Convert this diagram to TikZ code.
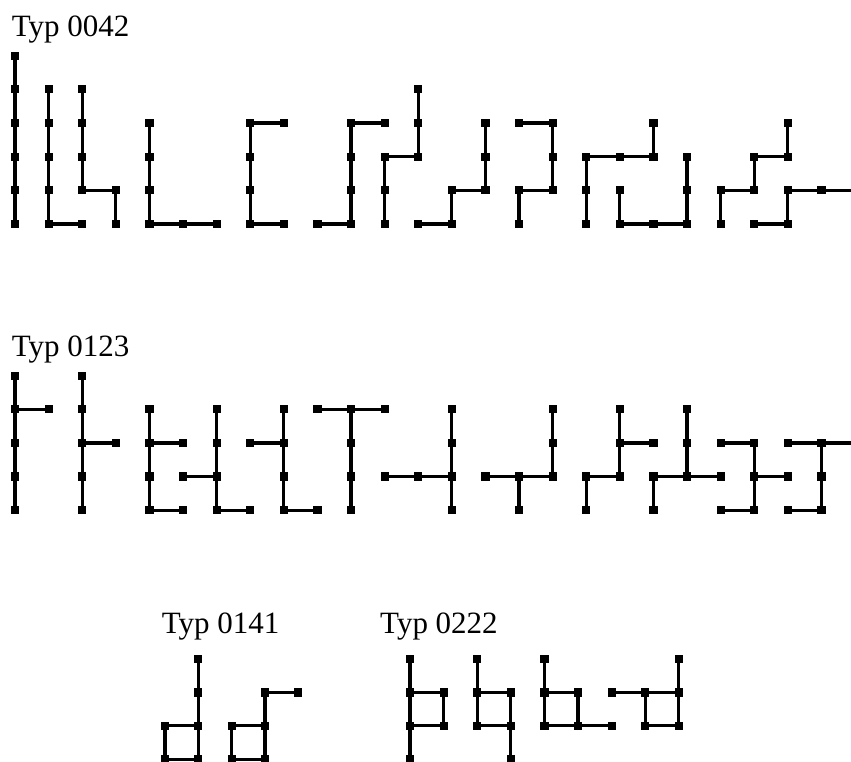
\documentclass[tikz,border=0pt]{standalone}
\usepackage{fontspec}
\setmainfont{Liberation Serif}
\begin{document}
\begin{tikzpicture}[x=1pt,y=-1pt,
  sq/.style={fill=black,rectangle,minimum size=8.2pt,inner sep=0pt,outer sep=0pt},
  seg/.style={line width=3.2pt},
  lab/.style={anchor=base west,inner sep=0pt,font=\fontsize{31}{36}\selectfont}]
\useasboundingbox (0,0) rectangle (851,762);
\clip (0,0) rectangle (851,762);
% labels
\node[lab] (l1) at (11.7,36.7) {Typ 0042};
\node[lab] (l2) at (11.7,356.7) {Typ 0123};
\node[lab] (l3) at (161.7,633.3) {Typ 0141};
\node[lab] (l4) at (380,633.3) {Typ 0222};
% top block
\foreach \i/\j in {0/0,0/1,0/2,0/3,0/4,0/5, 1/1,1/2,1/3,1/4,1/5,2/5, 2/1,2/2,2/3,2/4,3/4,3/5,
  4/2,4/3,4/4,4/5,5/5,6/5, 8/2,7/2,7/3,7/4,7/5,8/5, 9/5,10/5,10/4,10/3,10/2,11/2,
  12/1,12/2,12/3,11/3,11/4,11/5, 12/5,13/5,13/4,14/4,14/3,14/2, 15/2,16/2,16/3,16/4,15/4,15/5,
  19/2,19/3,18/3,17/3,17/4,17/5, 18/4,18/5,19/5,20/5,20/4,20/3, 23/2,23/3,22/3,22/4,21/4,21/5,
  22/5,23/5,23/4,24/4}
  \node[sq] (a\i-\j) at ({15+33.6*\i},{55.7+33.66*\j}) {};
\coordinate (endA) at (860,{55.7+33.66*4});
\foreach \p/\q in {a0-0/a0-5, a1-1/a1-5, a1-5/a2-5, a2-1/a2-4, a2-4/a3-4, a3-4/a3-5,
  a4-2/a4-5, a4-5/a6-5, a8-2/a7-2, a7-2/a7-5, a7-5/a8-5, a9-5/a10-5, a10-5/a10-2, a10-2/a11-2,
  a12-1/a12-3, a12-3/a11-3, a11-3/a11-5, a12-5/a13-5, a13-5/a13-4, a13-4/a14-4, a14-4/a14-2,
  a15-2/a16-2, a16-2/a16-4, a16-4/a15-4, a15-4/a15-5, a19-2/a19-3, a19-3/a17-3, a17-3/a17-5,
  a18-4/a18-5, a18-5/a20-5, a20-5/a20-3, a23-2/a23-3, a23-3/a22-3, a22-3/a22-4, a22-4/a21-4,
  a21-4/a21-5, a22-5/a23-5, a23-5/a23-4, a23-4/a24-4, a24-4/endA}
  \draw[seg] (\p) -- (\q);
% middle block
\foreach \i/\j in {0/0,0/1,0/2,0/3,0/4,1/1, 2/0,2/1,2/2,2/3,2/4,3/2, 4/1,4/2,4/3,4/4,5/2,5/4,
  6/1,6/2,6/3,6/4,5/3,7/4, 8/1,8/2,8/3,8/4,7/2,9/4, 9/1,10/1,11/1,10/2,10/3,10/4,
  13/1,13/2,13/3,13/4,11/3,12/3, 16/1,16/2,16/3,15/3,14/3,15/4, 18/1,18/2,18/3,19/2,17/3,17/4,
  20/1,20/2,20/3,19/3,21/3,19/4, 21/2,22/2,22/3,23/3,22/4,21/4, 23/2,24/2,24/3,24/4,23/4}
  \node[sq] (b\i-\j) at ({15+33.6*\i},{375.7+33.6*\j}) {};
\coordinate (endB) at (860,{375.7+33.6*2});
\foreach \p/\q in {b0-0/b0-4, b0-1/b1-1, b2-0/b2-4, b2-2/b3-2, b4-1/b4-4, b4-2/b5-2, b4-4/b5-4,
  b6-1/b6-4, b5-3/b6-3, b6-4/b7-4, b8-1/b8-4, b7-2/b8-2, b8-4/b9-4, b9-1/b11-1, b10-1/b10-4,
  b13-1/b13-4, b11-3/b13-3, b16-1/b16-3, b14-3/b16-3, b15-3/b15-4,
  b18-1/b18-3, b18-2/b19-2, b17-3/b18-3, b17-3/b17-4, b20-1/b20-3, b19-3/b21-3, b19-3/b19-4,
  b21-2/b22-2, b22-2/b22-4, b22-3/b23-3, b21-4/b22-4, b23-2/b24-2, b24-2/endB, b24-2/b24-4, b23-4/b24-4}
  \draw[seg] (\p) -- (\q);
% Typ 0141
\foreach \i/\j in {1/0,1/1,1/2,0/2,0/3,1/3, 4/1,3/1,3/2,2/2,2/3,3/3}
  \node[sq] (c\i-\j) at ({165+33.3*\i},{659+33.4*\j}) {};
\foreach \p/\q in {c1-0/c1-3, c0-2/c1-2, c0-2/c0-3, c0-3/c1-3,
  c4-1/c3-1, c3-1/c3-3, c2-2/c3-2, c2-2/c2-3, c2-3/c3-3}
  \draw[seg] (\p) -- (\q);
% Typ 0222
\foreach \i/\j in {0/0,0/1,0/2,0/3,1/1,1/2, 2/0,2/1,2/2,3/1,3/2,3/3, 4/0,4/1,4/2,5/1,5/2,6/2,
  6/1,7/1,8/1,8/0,8/2,7/2}
  \node[sq] (d\i-\j) at ({410+33.6*\i},{659+33.4*\j}) {};
\foreach \p/\q in {d0-0/d0-3, d0-1/d1-1, d1-1/d1-2, d0-2/d1-2,
  d2-0/d2-2, d2-1/d3-1, d3-1/d3-3, d2-2/d3-2,
  d4-0/d4-2, d4-1/d5-1, d5-1/d5-2, d4-2/d6-2,
  d6-1/d8-1, d8-0/d8-2, d7-1/d7-2, d7-2/d8-2}
  \draw[seg] (\p) -- (\q);
\end{tikzpicture}
\end{document}
